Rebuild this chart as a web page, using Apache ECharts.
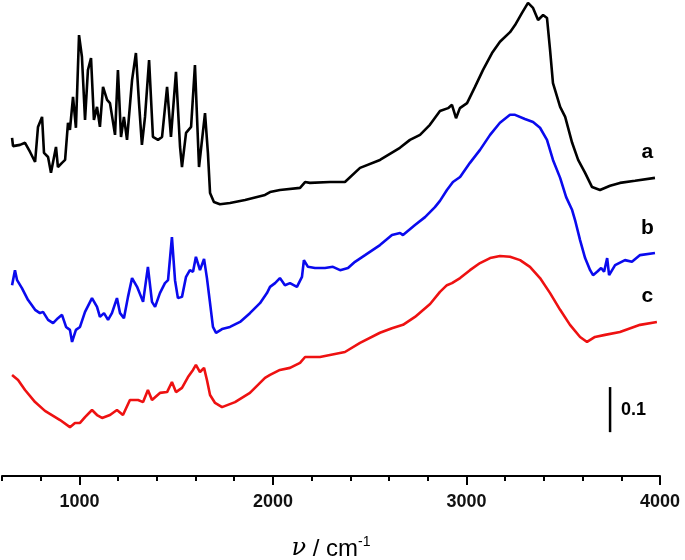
<!DOCTYPE html>
<html>
<head>
<meta charset="utf-8">
<script src="https://cdn.jsdelivr.net/npm/echarts@6/dist/echarts.min.js"></script>
<style>
  html, body { margin: 0; padding: 0; background: #fff; }
  #chart { width: 685px; height: 560px; }
</style>
</head>
<body>
<div id="chart"></div>
<script>
// wavenumber (cm-1) / absorbance pairs, offsets as drawn
const spectrumA = [
  [652, 0.810], [657, 0.790], [693, 0.793], [719, 0.798], [745, 0.776], [771, 0.752],
  [786, 0.836], [807, 0.860], [817, 0.774], [838, 0.764], [853, 0.726], [879, 0.788],
  [889, 0.740], [910, 0.750], [926, 0.757], [941, 0.846], [951, 0.829], [967, 0.908],
  [982, 0.834], [998, 1.056], [1013, 1.004], [1029, 0.853], [1044, 0.972], [1060, 1.001],
  [1075, 0.853], [1091, 0.884], [1106, 0.836], [1122, 0.932], [1143, 0.901], [1158, 0.893],
  [1184, 0.817], [1199, 0.972], [1215, 0.812], [1230, 0.860], [1246, 0.805], [1272, 0.948],
  [1292, 1.013], [1308, 0.893], [1323, 0.793], [1339, 0.860], [1360, 0.996], [1380, 0.812],
  [1406, 0.805], [1427, 0.812], [1453, 0.932], [1473, 0.812], [1499, 0.968], [1520, 0.788],
  [1530, 0.740], [1551, 0.822], [1577, 0.836], [1597, 0.984], [1618, 0.740], [1628, 0.740],
  [1649, 0.869], [1664, 0.774], [1675, 0.678], [1695, 0.656], [1726, 0.651], [1778, 0.654],
  [1856, 0.661], [1959, 0.673], [1985, 0.680], [2036, 0.685], [2140, 0.690], [2166, 0.704],
  [2191, 0.702], [2295, 0.704], [2372, 0.704], [2450, 0.738], [2553, 0.757], [2656, 0.786],
  [2708, 0.805], [2760, 0.817], [2811, 0.841], [2863, 0.874], [2905, 0.881], [2925, 0.889],
  [2946, 0.857], [2966, 0.881], [3003, 0.893], [3044, 0.932], [3085, 0.972], [3132, 1.013],
  [3173, 1.040], [3225, 1.063], [3251, 1.080], [3287, 1.109], [3318, 1.133], [3344, 1.121],
  [3370, 1.092], [3396, 1.104], [3416, 1.097], [3432, 1.020], [3447, 0.941], [3484, 0.884],
  [3510, 0.860], [3546, 0.798], [3577, 0.757], [3613, 0.726], [3649, 0.692], [3690, 0.685],
  [3742, 0.695], [3793, 0.702], [3871, 0.707], [3974, 0.714]
];

const spectrumB = [
  [652, 0.457], [667, 0.493], [678, 0.469], [703, 0.450], [734, 0.422], [771, 0.398],
  [796, 0.390], [812, 0.393], [838, 0.374], [864, 0.366], [889, 0.378], [910, 0.386],
  [931, 0.357], [951, 0.350], [962, 0.321], [982, 0.350], [1003, 0.357], [1029, 0.393],
  [1065, 0.426], [1091, 0.405], [1106, 0.381], [1127, 0.390], [1148, 0.374], [1168, 0.390],
  [1194, 0.426], [1210, 0.390], [1230, 0.378], [1251, 0.429], [1272, 0.474], [1298, 0.453],
  [1329, 0.417], [1354, 0.501], [1375, 0.417], [1391, 0.405], [1416, 0.438], [1442, 0.462],
  [1458, 0.469], [1478, 0.572], [1494, 0.469], [1509, 0.426], [1530, 0.429], [1551, 0.477],
  [1571, 0.493], [1587, 0.489], [1602, 0.525], [1623, 0.493], [1644, 0.520], [1659, 0.474],
  [1675, 0.414], [1690, 0.357], [1706, 0.343], [1737, 0.352], [1778, 0.357], [1830, 0.369],
  [1881, 0.390], [1933, 0.414], [1969, 0.438], [1985, 0.453], [2011, 0.462], [2036, 0.474],
  [2062, 0.457], [2088, 0.462], [2124, 0.453], [2150, 0.477], [2160, 0.517], [2181, 0.501],
  [2217, 0.498], [2269, 0.498], [2310, 0.501], [2347, 0.493], [2388, 0.498], [2424, 0.513],
  [2476, 0.529], [2553, 0.553], [2615, 0.577], [2657, 0.582], [2672, 0.577], [2734, 0.601],
  [2786, 0.620], [2837, 0.644], [2863, 0.659], [2899, 0.685], [2930, 0.704], [2967, 0.716],
  [3018, 0.750], [3070, 0.781], [3122, 0.817], [3173, 0.846], [3225, 0.865], [3251, 0.865],
  [3302, 0.855], [3344, 0.848], [3380, 0.834], [3416, 0.805], [3447, 0.757], [3484, 0.714],
  [3515, 0.668], [3546, 0.637], [3561, 0.613], [3587, 0.565], [3613, 0.522], [3639, 0.493],
  [3654, 0.481], [3675, 0.489], [3696, 0.498], [3711, 0.489], [3727, 0.522], [3737, 0.481],
  [3768, 0.505], [3819, 0.517], [3855, 0.513], [3897, 0.529], [3974, 0.534]
];

const spectrumC = [
  [652, 0.242], [683, 0.230], [719, 0.206], [771, 0.177], [822, 0.156], [900, 0.134],
  [951, 0.117], [977, 0.127], [1003, 0.127], [1029, 0.141], [1065, 0.158], [1091, 0.146],
  [1117, 0.139], [1158, 0.146], [1194, 0.158], [1225, 0.146], [1261, 0.182], [1303, 0.182],
  [1329, 0.177], [1354, 0.206], [1375, 0.182], [1416, 0.199], [1453, 0.201], [1478, 0.225],
  [1499, 0.201], [1530, 0.211], [1561, 0.237], [1587, 0.254], [1602, 0.266], [1623, 0.249],
  [1644, 0.259], [1659, 0.230], [1675, 0.194], [1701, 0.175], [1737, 0.165], [1804, 0.177],
  [1881, 0.199], [1959, 0.235], [1985, 0.242], [2036, 0.254], [2088, 0.259], [2140, 0.271],
  [2166, 0.285], [2243, 0.285], [2372, 0.297], [2450, 0.319], [2553, 0.343], [2615, 0.354],
  [2672, 0.362], [2734, 0.381], [2812, 0.412], [2863, 0.441], [2899, 0.457], [2925, 0.462],
  [2967, 0.474], [3018, 0.493], [3070, 0.510], [3122, 0.522], [3173, 0.527], [3225, 0.525],
  [3277, 0.517], [3328, 0.501], [3380, 0.474], [3432, 0.438], [3484, 0.398], [3535, 0.362],
  [3587, 0.333], [3623, 0.321], [3664, 0.333], [3716, 0.338], [3793, 0.345], [3897, 0.362],
  [3984, 0.369]
];

const curveNames = ["a", "b", "c"];
const curveLabelPos = [[3935, 0.776], [3935, 0.594], [3935, 0.43]];
const scaleBar = [[3742, 0.105], [3742, 0.213]];
const majorTicks = [1000, 2000, 3000, 4000];
const minorTicks = [600, 800, 1200, 1400, 1600, 1800, 2200, 2400, 2600, 2800,
  3200, 3400, 3600, 3800];

const chart = echarts.init(document.getElementById("chart"));

function curve(data, color, idx, width) {
  return {
    type: "line",
    data: data,
    showSymbol: false,
    clip: false,
    lineStyle: { color: color, width: width },
    markPoint: {
      symbol: "circle",
      symbolSize: 0,
      data: [{ coord: curveLabelPos[idx] }],
      label: {
        show: true,
        formatter: curveNames[idx],
        color: "#000",
        fontSize: 21,
        fontWeight: "bold",
        fontFamily: "Liberation Sans"
      }
    }
  };
}

chart.setOption({
  animation: false,
  grid: { left: 2, right: 25, top: 0, bottom: 84, outerBoundsMode: "none", containLabel: false },
  xAxis: [
    {
      type: "value",
      min: 600,
      max: 4000,
      name: "{i|ν} / cm{s|-1}",
      nameLocation: "middle",
      nameGap: 59,
      nameTextStyle: {
        fontSize: 24,
        color: "#000",
        fontFamily: "Liberation Sans",
        rich: {
          i: { fontSize: 24, fontStyle: "italic", fontFamily: "DejaVu Serif", color: "#000" },
          s: { fontSize: 14, verticalAlign: "top", padding: [0, 0, 14, 0], color: "#000" }
        }
      },
      axisLine: { show: true, lineStyle: { color: "#000", width: 2 } },
      axisTick: { show: true, inside: false, length: 9, lineStyle: { color: "#000", width: 2 }, customValues: majorTicks },
      axisLabel: {
        customValues: majorTicks,
        formatter: (v) => String(v),
        margin: 17,
        fontSize: 18,
        fontWeight: "bold",
        fontFamily: "Liberation Sans",
        color: "#111"
      },
      splitLine: { show: false }
    },
    {
      type: "value",
      min: 600,
      max: 4000,
      position: "bottom",
      axisLine: { show: false },
      axisTick: { show: true, length: 5, lineStyle: { color: "#000", width: 2 }, customValues: minorTicks },
      axisLabel: { show: false },
      splitLine: { show: false }
    }
  ],
  yAxis: { type: "value", min: 0, max: 1.14, show: false },
  series: [
    curve(spectrumA, "#000000", 0, 2.6),
    curve(spectrumB, "#0a0aee", 1, 2.6),
    curve(spectrumC, "#ee1111", 2, 2.6),
    {
      type: "line",
      data: scaleBar,
      showSymbol: false,
      clip: false,
      lineStyle: { color: "#000", width: 2.5 },
      markPoint: {
        symbol: "circle",
        symbolSize: 0,
        data: [{ coord: [scaleBar[0][0], (scaleBar[0][1] + scaleBar[1][1]) / 2] }],
        label: {
          show: true,
          position: "right",
          distance: 11,
          formatter: "0.1",
          color: "#000",
          fontSize: 18,
          fontWeight: "bold",
          fontFamily: "Liberation Sans"
        }
      }
    }
  ]
});
</script>
</body>
</html>
